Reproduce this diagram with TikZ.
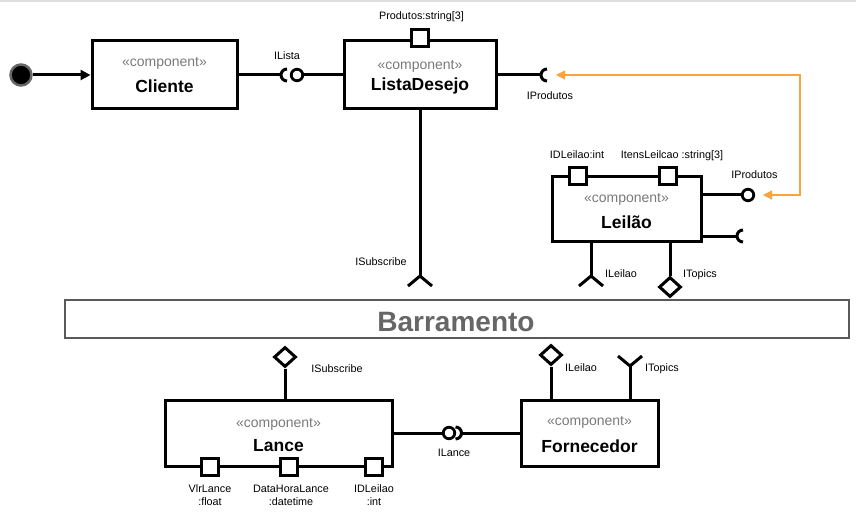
\documentclass[tikz,border=0pt]{standalone}
\usepackage{fontspec}
\setmainfont{Liberation Sans}
\usetikzlibrary{arrows.meta,shapes.geometric}
\definecolor{stereogray}{HTML}{7A7A7A}
\definecolor{busgray}{HTML}{5A5A5A}
\definecolor{bustext}{HTML}{666666}
\definecolor{orng}{HTML}{F9A43E}
\begin{document}
\begin{tikzpicture}[x=1pt,y=-1pt,
  compbox/.style={draw=black,line width=3pt,fill=white,inner sep=0pt},
  portbox/.style={draw=black,line width=3pt,fill=white,minimum size=17pt,inner sep=0pt},
  stereo/.style={font=\fontsize{14}{16}\selectfont,text=stereogray,inner sep=0pt,anchor=base},
  cname/.style={font=\fontsize{17.5}{20}\selectfont\bfseries,inner sep=0pt,anchor=base},
  lbl/.style={font=\fontsize{10.8}{13}\selectfont,inner sep=0pt,anchor=base,align=center},
  wire/.style={line width=3pt},
  ball/.style={circle,draw=black,line width=2.8pt,fill=white,minimum size=11.5pt,inner sep=0pt},
  iface/.style={diamond,draw=black,line width=3pt,fill=white,minimum width=22pt,minimum height=20pt,inner sep=0pt},
  orarrow/.style={draw=orng,line width=1.3pt,{Triangle[length=9pt,width=9pt]}-{Triangle[length=9pt,width=9pt]}}]
\useasboundingbox (0,0) rectangle (856,513);
\fill[black!12] (0,0) rectangle (856,2);

% ---------------- top row ----------------
\node[compbox,minimum width=145pt,minimum height=68pt] (cli) at (164.5,75) {};
\node[stereo] (cliS) at (164.5,67) {«component»};
\node[cname] (cliN) at (164.5,93) {Cliente};

\node[circle,fill=black,draw=black!60,line width=2.5pt,minimum size=21pt,inner sep=0pt] (start) at (21,75) {};
\draw[wire,-{Triangle[length=10pt,width=10pt]}] (start) -- (cli.west);

\node[compbox,minimum width=152pt,minimum height=68pt] (lista) at (420,75) {};
\node[stereo] (listaS) at (420,70) {«component»};
\node[cname] (listaN) at (420,91) {ListaDesejo};
\node[portbox] (pprod) at (420,38) {};
\node[lbl] (pprodL) at (421.5,19.5) {Produtos:string[3]};

% ILista assembly
\coordinate (ilC) at (287,75);
\node[ball] (ilB) at (297,75) {};
\draw[wire] (cli.east) -- ([xshift=-6pt]ilC);
\draw[wire] ([yshift=6pt]ilC) arc[start angle=90,end angle=270,radius=6pt];
\draw[wire] (ilB.east) -- (lista.west);
\node[lbl] (ilL) at (287,59.5) {ILista};

% IProdutos socket of ListaDesejo
\coordinate (lsC) at (547,75);
\draw[wire] (lista.east) -- ([xshift=-6pt]lsC);
\draw[wire] ([yshift=6pt]lsC) arc[start angle=90,end angle=270,radius=6pt];
\node[lbl] (lsL) at (550,100) {IProdutos};

% ISubscribe required by ListaDesejo
\coordinate (isubF) at (420,276);
\draw[wire] (lista.south) -- (isubF);
\draw[wire] ([shift={(-12pt,-10pt)}]isubF) -- (isubF) -- ([shift={(12pt,-10pt)}]isubF);
\node[lbl] (isubL) at (381,265.5) {ISubscribe};

% ---------------- Leilao ----------------
\node[compbox,minimum width=149pt,minimum height=64pt] (leilao) at (626.5,209) {};
\node[stereo] (leiS) at (626.5,202) {«component»};
\node[cname] (leiN) at (626.5,228.3) {Leilão};
\node[portbox] (pid) at (578,176) {};
\node[portbox] (pit) at (668,176) {};
\node[lbl] (pidL) at (577,158.3) {IDLeilao:int};
\node[lbl] (pitL) at (672,158.3) {ItensLeilcao :string[3]};

\node[ball] (lb) at (748,195) {};
\draw[wire] (leilao.east |- lb) -- (lb);
\node[lbl] (lbL) at (754.5,178.5) {IProdutos};

\coordinate (lsock) at (743,236);
\draw[wire] (leilao.east |- lsock) -- ([xshift=-6pt]lsock);
\draw[wire] ([yshift=6pt]lsock) arc[start angle=90,end angle=270,radius=6pt];

\coordinate (lf) at (591,276);
\draw[wire] (leilao.south -| lf) -- (lf);
\draw[wire] ([shift={(-12pt,-10pt)}]lf) -- (lf) -- ([shift={(12pt,-10pt)}]lf);
\node[lbl] (lfL) at (621,277) {ILeilao};

\node[iface] (ld) at (670,287) {};
\draw[wire] (leilao.south -| ld) -- (ld.north);
\node[lbl] (ldL) at (700,277) {ITopics};

% orange dependency
\coordinate (oA) at (556,75);
\coordinate (oC) at (800,75);
\coordinate (oB) at (763,195);
\draw[orarrow] (oA) -- (oC) |- (oB);

% ---------------- bus ----------------
\node[draw=busgray,line width=2.8pt,minimum width=784pt,minimum height=38pt,inner sep=0pt] (bus) at (457,319) {};
\node[font=\fontsize{28}{32}\selectfont\bfseries,text=bustext,inner sep=0pt,anchor=base] (busT) at (456,331) {Barramento};

% ---------------- Lance ----------------
\node[compbox,minimum width=227pt,minimum height=66pt] (lance) at (278.5,433) {};
\node[stereo] (lanS) at (278.5,427) {«component»};
\node[cname] (lanN) at (278.5,451) {Lance};
\node[iface] (lsd) at (285,357) {};
\draw[wire] (lsd.south) -- (lance.north -| lsd);
\node[lbl] (lsdL) at (337,372.7) {ISubscribe};

\node[portbox] (pv) at (210,467) {};
\node[portbox] (pd) at (289,467) {};
\node[portbox] (pl) at (374,467) {};
\node[lbl] (pvL) at (210,505.5) {VlrLance\\:float};
\node[lbl] (pdL) at (291,505.5) {DataHoraLance\\:datetime};
\node[lbl] (plL) at (374,505.5) {IDLeilao\\:int};

% ---------------- Fornecedor ----------------
\node[compbox,minimum width=137pt,minimum height=66pt] (forn) at (589.5,433) {};
\node[stereo] (fornS) at (589.5,425) {«component»};
\node[cname] (fornN) at (589.5,452) {Fornecedor};

\node[ball] (lnB) at (449,433) {};
\coordinate (lnC) at (455.5,433);
\draw[wire] (lance.east) -- (lnB.west);
\draw[wire] ([yshift=6pt]lnC) arc[start angle=90,end angle=-90,radius=6pt];
\draw[wire] ([xshift=6pt]lnC) -- (forn.west);
\node[lbl] (lnL) at (454,456.7) {ILance};

\node[iface] (fd) at (551,355) {};
\draw[wire] (fd.south) -- (forn.north -| fd);
\node[lbl] (fdL) at (581,371.5) {ILeilao};

\coordinate (ftF) at (630,366);
\draw[wire] (forn.north -| ftF) -- (ftF);
\draw[wire] ([shift={(-12pt,10pt)}]ftF) -- (ftF) -- ([shift={(12pt,10pt)}]ftF);
\node[lbl] (ftL) at (662,371.5) {ITopics};
\end{tikzpicture}
\end{document}
